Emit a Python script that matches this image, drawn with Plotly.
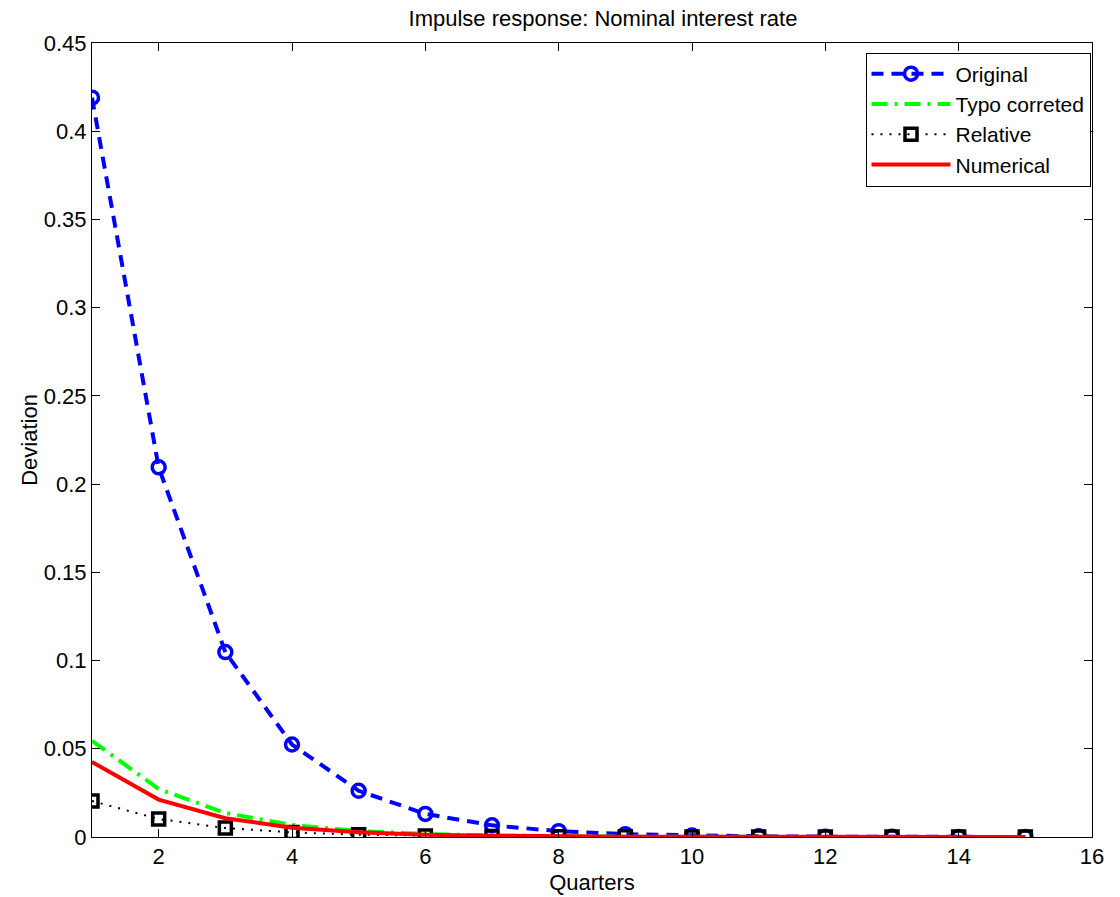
import plotly.graph_objects as go

quarters = list(range(1, 16))
original = [0.419, 0.2095, 0.1048, 0.0524, 0.0262, 0.0131, 0.0066, 0.0033, 0.0016, 0.0008, 0.0004, 0.0002, 0.0001, 0.00005, 0.00003]
typo_corrected = [0.0545, 0.0272, 0.0136, 0.0068, 0.0034, 0.0017, 0.0009, 0.0004, 0.0002, 0.0001, 0.00005, 0.00003, 0.00001, 0.00001, 0.0]
relative = [0.0204, 0.0102, 0.0051, 0.0026, 0.0013, 0.0006, 0.0003, 0.0002, 0.0001, 0.00005, 0.00002, 0.00001, 0.0, 0.0, 0.0]
numerical = [0.0425, 0.0212, 0.0106, 0.0053, 0.0027, 0.0013, 0.0007, 0.0003, 0.0002, 0.0001, 0.00004, 0.00002, 0.00001, 0.0, 0.0]

FONT = "Liberation Sans, Arial, Helvetica"

fig = go.Figure()
fig.add_trace(go.Scatter(x=quarters, y=original, name="Original", mode="lines+markers",
                         line=dict(color="#0000ff", width=4, dash="12px,8px"),
                         marker=dict(symbol="circle-open", size=13, color="#0000ff", line=dict(width=3.5))))
fig.add_trace(go.Scatter(x=quarters, y=typo_corrected, name="Typo correted", mode="lines",
                         line=dict(color="#00ff00", width=4, dash="16px,7px,3px,7px")))
fig.add_trace(go.Scatter(x=quarters, y=relative, name="Relative", mode="lines+markers",
                         line=dict(color="#000000", width=2, dash="2px,7px"),
                         marker=dict(symbol="square-open", size=12, color="#000000", line=dict(width=3.5))))
fig.add_trace(go.Scatter(x=quarters, y=numerical, name="Numerical", mode="lines",
                         line=dict(color="#ff0000", width=4)))

axis_common = dict(showgrid=False, zeroline=False, showline=True, linecolor="black", linewidth=1,
                   mirror="ticks", ticks="inside", ticklen=8, tickcolor="black", automargin=False,
                   tickfont=dict(family=FONT, size=22, color="black"))

fig.update_layout(
    width=1120, height=897,
    margin=dict(l=92, r=28, t=43, b=60),
    paper_bgcolor="white", plot_bgcolor="white",
    title=dict(text="Impulse response: Nominal interest rate", x=603 / 1120, xanchor="center",
               y=1 - 18 / 897, yanchor="middle",
               font=dict(family=FONT, size=22, color="black")),
    xaxis=dict(range=[1, 16], tick0=0, dtick=2,
               title=dict(text="Quarters", standoff=6, font=dict(family=FONT, size=22, color="black")),
               **axis_common),
    yaxis=dict(range=[0, 0.45], tick0=0, dtick=0.05,
               title=dict(text="Deviation", standoff=0, font=dict(family=FONT, size=22, color="black")),
               **axis_common),
    legend=dict(x=0.9985, y=0.988, xanchor="right", yanchor="top", bgcolor="white",
                bordercolor="black", borderwidth=1, itemwidth=79,
                font=dict(family=FONT, size=21, color="black"),
                tracegroupgap=0),
    showlegend=True,
)

fig.write_html("out.html")
